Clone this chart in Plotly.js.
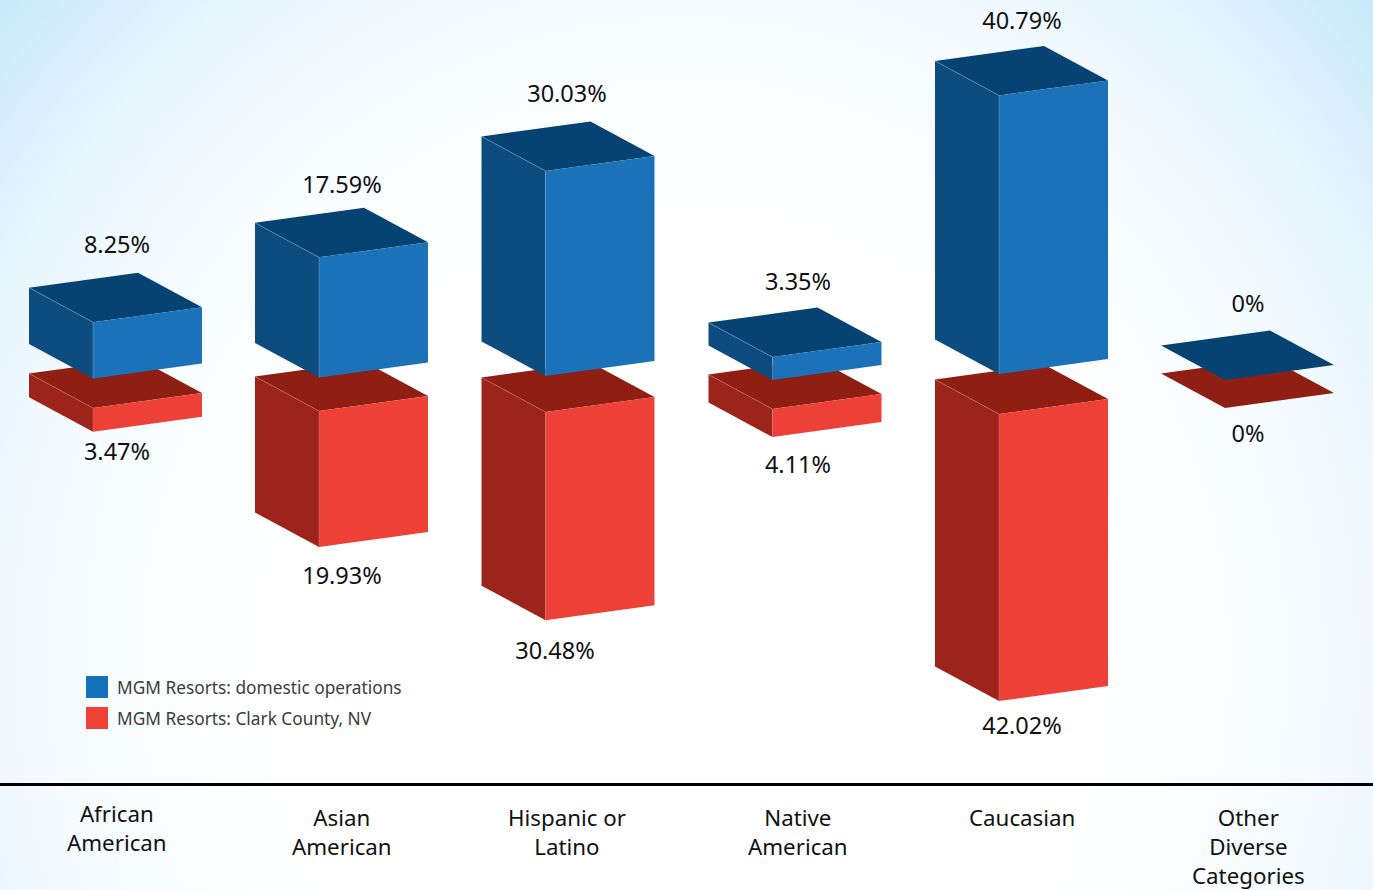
<!DOCTYPE html>
<html>
<head>
<meta charset="utf-8">
<script src="https://cdn.plot.ly/plotly-3.0.1.min.js"></script>
<style>
  html, body { margin: 0; padding: 0; width: 1373px; height: 890px; overflow: hidden; }
  body { background: radial-gradient(ellipse 915px 976px at 686px 660px, #ffffff 0%, #ffffff 45%, #f9fdff 60%, #f3faff 72%, #e7f5fd 84%, #c9e9fa 100%); }
  #chart { width: 1373px; height: 890px; }
</style>
</head>
<body>
<div id="chart"></div>
<script>
// Workforce share by group, in percent
const categories = ['African<br>American', 'Asian<br>American', 'Hispanic or<br>Latino', 'Native<br>American', 'Caucasian', 'Other<br>Diverse<br>Categories'];
const domesticValues = [8.25, 17.59, 30.03, 3.35, 40.79, 0];
const clarkCountyValues = [3.47, 19.93, 30.48, 4.11, 42.02, 0];
const seriesNames = ['MGM Resorts: domestic operations', 'MGM Resorts: Clark County, NV'];

// Drawing geometry, in screen pixels
const WIDTH = 1373, HEIGHT = 890, AXIS_ROW = 783, PX_PER_PERCENT = 6.83;
const barLeft = [29, 255, 481.5, 708.5, 935, 1161];
const frontWidth = 109, frontRise = 15, depthX = 64, depthDrop = 34.5;
const domesticFloorRow = [378.5, 377.5, 376, 380, 374, 380];
const clarkCeilingRow = [408, 411, 412, 409, 414, 408];
const labelCentre = [117, 342, 567, 798, 1022, 1248];
const clarkLabelCentre = [117, 342, 555, 798, 1022, 1248];
const domesticLabelRow = [247.5, 187.5, 96.5, 284.5, 23.5, 306.5];
const clarkLabelRow = [454.5, 578.5, 653.5, 467.5, 728.5, 436.5];
const categoryRow = [810.5, 813.5, 813.5, 813.5, 813.5, 813.5];

const toY = row => (AXIS_ROW - row) / PX_PER_PERCENT;
const depthY = depthDrop / PX_PER_PERCENT, riseY = frontRise / PX_PER_PERCENT;

// Appends one closed polygon, with a gap so a single trace can hold many
function addPolygon(store, pts) {
  pts.concat([pts[0]]).forEach(p => { store.x.push(p[0]); store.y.push(p[1]); });
  store.x.push(null); store.y.push(null);
}

// A prism for one series: yHigh and yLow are the front-left top and bottom corners
function prismTraces(values, yHighOf, yLowOf, colours, name) {
  const front = {x: [], y: []}, side = {x: [], y: []}, top = {x: [], y: []}, edge = {x: [], y: []};
  values.forEach((v, i) => {
    const xBack = barLeft[i], xFront = xBack + depthX, xRight = xFront + frontWidth;
    const hi = yHighOf(v, i), lo = yLowOf(v, i);
    addPolygon(top, [[xBack, hi + depthY], [xBack + frontWidth, hi + depthY + riseY], [xRight, hi + riseY], [xFront, hi]]);
    if (v > 0) {
      addPolygon(front, [[xFront, hi], [xRight, hi + riseY], [xRight, lo + riseY], [xFront, lo]]);
      addPolygon(side, [[xBack, hi + depthY], [xFront, hi], [xFront, lo], [xBack, lo + depthY]]);
      edge.x.push(xBack, xFront, xFront, null);
      edge.y.push(hi + depthY, hi, lo, null);
    }
  });
  const poly = (d, colour, label) => ({
    type: 'scatter', mode: 'lines', x: d.x, y: d.y, name: label,
    fill: 'toself', fillcolor: colour, line: {width: 0, color: colour},
    hoverinfo: 'skip', showlegend: false
  });
  return [
    poly(side, colours.side, name + ' side'),
    poly(top, colours.top, name + ' top'),
    poly(front, colours.front, name),
    {type: 'scatter', mode: 'lines', x: edge.x, y: edge.y, line: {width: 0.6, color: colours.edge},
     hoverinfo: 'skip', showlegend: false, name: name + ' edge'}
  ];
}

const blue = {front: '#1b72b9', side: '#0d4c7f', top: '#064372', edge: 'rgba(130,175,215,0.7)'};
const red = {front: '#ed4036', side: '#9d241b', top: '#8f1f13', edge: 'rgba(215,130,120,0.7)'};

const clarkTraces = prismTraces(clarkCountyValues,
  (v, i) => toY(clarkCeilingRow[i]),
  (v, i) => toY(clarkCeilingRow[i]) - v,
  red, seriesNames[1]);
const domesticTraces = prismTraces(domesticValues,
  (v, i) => toY(domesticFloorRow[i]) + v,
  (v, i) => toY(domesticFloorRow[i]),
  blue, seriesNames[0]);

const valueLabelFont = {family: '"Noto Sans", sans-serif', size: 23.5, color: '#111111'};
const valueLabels = [
  {type: 'scatter', mode: 'text', x: labelCentre, y: domesticLabelRow.map(toY),
   text: domesticValues.map(v => v + '%'), textposition: 'middle center',
   textfont: valueLabelFont, hoverinfo: 'skip', showlegend: false, name: seriesNames[0] + ' values'},
  {type: 'scatter', mode: 'text', x: clarkLabelCentre, y: clarkLabelRow.map(toY),
   text: clarkCountyValues.map(v => v + '%'), textposition: 'middle center',
   textfont: valueLabelFont, hoverinfo: 'skip', showlegend: false, name: seriesNames[1] + ' values'}
];

// Key in the lower left corner
const keySwatches = {
  type: 'scatter', mode: 'markers', x: [97, 97], y: [687, 718].map(toY),
  marker: {symbol: 'square', size: 22, color: ['#1272bc', '#ef4136'], line: {width: 0}},
  hoverinfo: 'skip', showlegend: false, name: 'key'
};
const keyLabels = seriesNames.map((name, i) => ({
  xref: 'x', yref: 'y', x: 115, y: toY([687.5, 718.5][i]), text: name, showarrow: false,
  xanchor: 'left', yanchor: 'middle', align: 'left',
  font: {family: '"Noto Sans", sans-serif', size: 17.3, color: '#3c3c3c'}
}));

// Group names sit under the baseline
const categoryLabels = categories.map((name, i) => ({
  xref: 'x', yref: 'paper', x: labelCentre[i], y: -(categoryRow[i] - AXIS_ROW - 14) / AXIS_ROW,
  text: name, showarrow: false, xanchor: 'center', yanchor: 'top', align: 'center',
  font: {family: '"Noto Sans", sans-serif', size: 22.3, color: '#111111'}
}));

const layout = {
  width: WIDTH, height: HEIGHT,
  margin: {l: 0, r: 0, t: 0, b: HEIGHT - AXIS_ROW, pad: 0},
  paper_bgcolor: 'rgba(0,0,0,0)', plot_bgcolor: 'rgba(0,0,0,0)',
  showlegend: false,
  xaxis: {range: [0, WIDTH], showgrid: false, zeroline: false, showticklabels: false, ticks: '',
          showline: true, linecolor: '#000000', linewidth: 3, fixedrange: true},
  yaxis: {range: [0, AXIS_ROW / PX_PER_PERCENT], visible: false, fixedrange: true},
  annotations: keyLabels.concat(categoryLabels)
};

Plotly.newPlot('chart', clarkTraces.concat(domesticTraces, valueLabels, [keySwatches]), layout, {displayModeBar: false, responsive: false});
</script>
</body>
</html>
